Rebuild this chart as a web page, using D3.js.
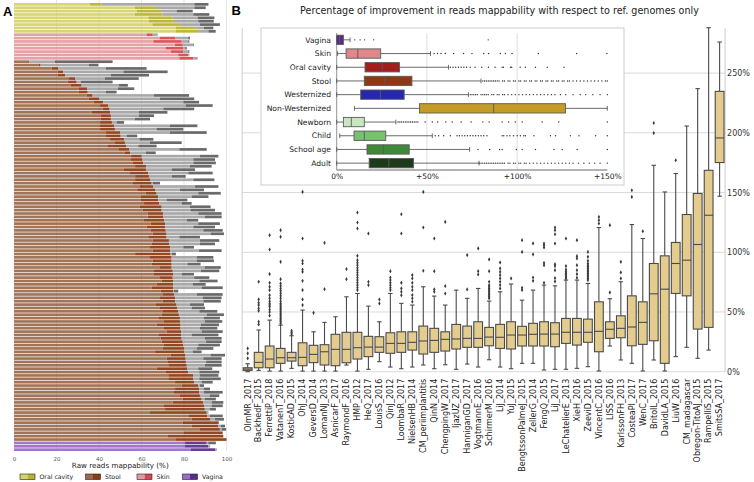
<!DOCTYPE html>
<html><head><meta charset="utf-8">
<script src="https://cdn.jsdelivr.net/npm/d3@7"></script>
<style>body{margin:0;background:#fff;} svg{display:block;font-family:"DejaVu Sans",sans-serif;}</style>
</head><body><svg id="c" width="754" height="482"></svg>
<script>
// ---------------- Panel A data: [ref end, improved end, grey end, dark grey end] (%)
const oralRows = [[35.8,41.2,84.9,91.5],[56.9,66.8,84.9,90.2],[57.7,69.2,76.5,84.1],[56.9,69.8,84.4,91.9],[63.2,74.5,86.4,94.3],[63.5,75.3,86.7,94],[65.1,78.1,87.5,96.9],[76.1,85.6,89.4,93.8],[76.1,87.1,91.5,94.9]];
const skinRows = [[62.4,65.3,67.2,67.5],[68.7,75.8,82,82.8],[65.6,78.9,82,82.5],[75.8,79.4,84.4,84.7],[71.4,79.7,80.6,81.3],[73.9,79.7,82,82.5],[77.3,82,82.4,82.5],[77.8,84.4,85.9,86.3]];
const stoolRows = [[6.7,7.2,19.3,46.4],[11.5,12.5,35.3,39.7],[17.7,20.9,43.3,62.4],[20.5,23.2,51.5,72.3],[20.4,24,45.6,63.5],[25.9,28.7,42.8,58.7],[25.3,29.5,31.4,46.4],[26.8,31.8,49.4,53.6],[30.3,34.5,48.9,56.6],[30.4,34.7,43.3,48.3],
[34.2,37,65.9,82.4],[35.1,40.2,68.7,84.8],[37.5,42,79.7,87.1],[40.5,44.4,80.8,93.5],[41.7,45,70.3,84.8],[36.5,45.2,58.7,72.2],[40.8,45.6,58.7,65.9],[40.8,45.6,56.9,64],[40.5,46.1,48.3,51.8],[40.5,47.1,73.4,86.3],
[40.5,47.5,67.1,79.7],[43.3,49.9,73.4,90.7],[43.3,50.2,53,58],[45.2,51.8,59,65.6],[47.5,52.2,64,78.9],[43.9,52.7,58.5,67.1],[49.1,54.3,77.8,90.7],[52.2,54.6,62.1,66.7],[55.1,60.1,87.5,96.2],[55.1,60.5,84.4,94.6],
[55.8,60.8,84.4,95],[57,62.1,82.8,93],[51.5,62.1,74.2,85.2],[54.6,63.2,82,93.5],[57,63.5,74.2,80.8],[57,64,84.4,94.3],[55.7,64.8,65.3,68.7],[59.3,65.6,85.2,96.2],[58,66.4,78.1,89.4],[62,67.1,86.7,97.3],
[59.8,67.9,83.6,91.5],[59.8,67.9,71.8,81.6],[61.2,68.4,78.9,83.6],[59,69.5,82.8,92.5],[60.5,69.5,83.1,94.6],[62.9,70.3,86.7,97.7],[62.9,70.3,89.8,97.7],[60.9,70.6,81.3,86.7],[64.3,71.1,86.7,96.9],[62.4,71.1,84.4,94.6],
[64.3,71.4,89.1,98.2],[65.2,71.8,92.5,98.8],[63.2,71.8,77.8,87.5],[65.2,72.9,87.5,96.6],[64.8,73.1,87.5,94.6],[64,73.4,79.7,84.7],[65.2,73.4,87.1,97.7],[57,73.7,74.2,76.2],[64,74.2,86,93.8],[65.2,74.2,86,94.1],
[64.8,74.2,81.6,87.8],[68.4,74.2,89.8,97.3],[65.9,74.7,88,96.6],[65.6,75,78.9,84.7],[68.7,74.7,84.8,91.9],[69.5,75,87.2,95.8],[67.1,75,84.1,90.2],[64.8,75,88.3,98.2],[69,75,75.3,77.3],[69.8,75.3,86,98.2],
[68.7,75.8,88.8,97.7],[70,75.8,89.1,97.3],[66.8,76.5,82.8,89.4],[68.7,76.9,83.6,89.9],[69.8,77.3,87.2,95.7],[69.5,77.6,90.7,98.8],[67.9,78.1,89.4,96.9],[70.3,78.1,89.8,98],[67.1,78.4,88,96.5],[70.6,78.4,87.5,95.7],
[71.8,78.6,88.3,98.2],[67.9,78.6,83.6,96.2],[69,78.9,89.8,97.7],[69.5,79.4,90.4,97.7],[70.3,79.7,86.7,96.9],[70,80,85.9,93.8],[66.4,80.2,84.1,88.3],[73.7,80.5,92.5,99.3],[71.8,80.8,89.1,97.7],[72.2,80.9,90.4,97.7],
[72.6,81.3,89.8,97.7],[67.1,81.6,86.7,93.3],[71.5,82,87.2,96.6],[72.6,84.4,87.5,96.2],[72.6,84.4,87.2,97.3],[75.8,84.7,88.3,93.5],[78.9,86.7,87.5,89.4],[75.8,87.1,89.4,92.2],[75,87.2,89.4,98.2],[78.1,87.5,92.2,96.6],
[79.4,88.3,89.8,95],[74.7,89.1,93,98.5],[70.3,89.4,93,98.2],[71.1,89.8,92.2,95],[64,90.7,91.4,91.5],[82,91,92.2,98.2],[83.6,92.5,94.6,98.8],[79.4,96.2,96.2,96.5],[83.6,96.2,97.3,99.3],[87.5,96.9,97.7,99.8],
[80,98.2,98.2,98.2],[72.2,98.5,98.5,98.5],[76.2,100,100,100]];
const vaginaRows = [[80.5,90.7,91.4,95],[80.5,91.5,92.3,92.3],[83.1,94.6,95,95.3]];
const xTicksA = [0,20,40,60,80,100];
const legendA = ["Oral cavity","Stool","Skin","Vagina"];

// ---------------- Panel B main boxplots (%)
const datasets = ["OlmMR_2017","BackhedF_2015","FerrettiP_2018","VatanenT_2016","KosticAD_2015","OhJ_2014","GeversD_2014","LomanNJ_2013","AsnicarF_2017","RaymondF_2016","HMP_2012","HeQ_2017","LouisS_2016","QinJ_2012","LoombaR_2017","NielsenHB_2014","CM_periimplantitis","QinN_2014","ChengpingW_2017","IjazUZ_2017","HanniganGD_2017","VogtmannE_2016","SchirmerM_2016","LiJ_2014","YuJ_2015","BengtssonPalmeJ_2015","ZellerG_2014","FengQ_2015","LiJ_2017","LeChatelierE_2013","XieH_2016","ZeeviD_2015","VincentC_2016","LISS_2016","KarlssonFH_2013","CosteaPI_2017","WenC_2017","BritoIL_2016","DavidLA_2015","LiuW_2016","CM_madagascar","Obregon-TitoAJ_2015","RampelliS_2015","SmitsSA_2017"];
const whiskLo = [0,1.1,0.5,0.5,2.8,0.5,0.5,0.5,0.5,5.6,0.5,2,8.4,3.9,2.5,3.9,5.6,2.5,5.8,2,6.4,3.9,10,3.9,2.5,7,7,1.4,2,2,2.8,4.2,0.6,21.5,9.8,7,0.6,9.8,0.6,12.6,20.4,11.2,18.1,146.9];
const q1 = [1.1,3.3,3.3,7,8.9,5,7.6,5.6,5,7.5,10.6,12.6,16.2,15.4,16.2,18.1,14.8,16.2,17.3,19,20.4,20.4,21.7,19.5,19,21.5,21.5,21.5,20.9,23.7,22.3,24.6,16.7,27.9,28.4,21.7,22.9,25.9,7,65.5,63.5,35.7,37.1,175.1];
const medians = [2.2,7.8,10.6,11.7,11.7,12,14.5,16.7,18.7,18.7,20.1,20.6,20.6,23.7,23.7,24.6,25.7,26.2,27.1,27.4,27.9,27.9,29,28.8,30.7,30.7,31.3,31.5,31.5,33,33,33,33.8,35.5,36.3,37.4,41.3,65.2,69.1,90.6,93.4,106.5,131,195.7];
const q3 = [3.3,16.2,21.5,19.5,16.2,24.2,22.1,22.6,31.3,33,33,29.6,29.3,32.6,33.4,33.4,38.2,36.3,33.4,39.6,38.2,41.8,37.1,39.6,41.8,38,40.5,41.8,41,44.6,44.6,44,58.5,41.8,46.8,63.5,58.5,90.6,97,108.2,131.6,149.2,168.6,234.7];
const whiskHi = [6.7,34.9,43.2,39,30.1,51.6,33.4,41.3,46,62.7,65.5,54.9,41.8,65.5,57.2,55.8,71.1,63.3,55.8,68.3,61.4,69.7,59.1,66.9,73.4,59.9,68.3,72.5,71.9,76.7,76.7,73.9,120.7,61.1,75.3,123.2,111.5,172.8,150.5,165.9,205.7,237,288,276];
const fliers = [
 [11.2,15.4,19.5],
 [39.6,41.8,51,53,55.8,57.7,60.5,75.3],
 [47,50,52,54.4,55.8,57.2,59,61.4,64.1,68.3,71.1,74.4,81.7,102.3,114.3],
 [40.5,42,43.2,44.6,46,47.4,48.8,50.2,51.6,53,54.4,55.8,57.2,59,61.4,63.5,65.6,67.7,69.7,71.8,73.9,77.5,92,112.9,118.5],
 [31.5,32.9,34.3],
 [55.8,60.5,68.3,76.1,83.6,85.6,90.6,92.8,111.5,150.5],
 [49.3],
 [69.1,107.9],
 [],
 [77.5,85.9],
 [68.3,70.4,72.5,74.6,76.7,78.8,80.9,83,85,87.1,89.2,91.3,93.4,97,119.9,124.9,133.3],
 [72.5,75.3,115.7],
 [57.2,60.5],
 [68.3,70.3,72.4,74.4,76.7,78.9,84.2],
 [64.1,66.9,69.7,74.4,115.7,131.8],
 [58.6,61.4,64.2,68.3,71.1,74.4,78.1,80.9],
 [84.5,120.7,150.5],
 [66.9,68.9,84.2,111.5],
 [65.5,71.7,125.4],
 [],
 [68.9,97.6],
 [81.4,84.2,103.2],
 [61.4,62.8,64.2,65.5,66.9,68.3,69.7,71.1,72.5,75.3,84.2,94],
 [69.7,72.5,75.3,78.1,80.9,83.6,86.5,91.5],
 [78.1],
 [68.3,70.2,100.3,110.1],
 [76.1,78.9,98.2,107.4],
 [74.4,89.2,91.1,104,105.9,107.3],
 [75.6,78.4,85,88.4,90,107.3,115.1,118.5,120.7],
 [78,79.5,80.9,82.3,83.6,85.6,88.4,111.5],
 [78.6,81.7,85,89.2,94.8,96.7,110.1],
 [76.7,78.1,79.5,80.9,82.3,83.6,85,86.4,87.8,89.2,90.6,92.8,96.2,100.3],
 [124.1,126.9,129.6],
 [66.4,122.7],
 [78.1,83.1,92],
 [146.3,151.9],
 [117.6],
 [199.8,208.2],
 [],
 [177],
 [],[],[],[]
];
const yTicksB = [0,50,100,150,200,250];

// ---------------- Inset boxplots (%)
const insetCats = ["Vagina","Skin","Oral cavity","Stool","Westernized","Non-Westernized","Newborn","Child","School age","Adult"];
const insetColors = ["#5a2a8c","#e0878b","#a31d1d","#8a3a14","#2727ad","#c49b26","#c6e8bf","#78c16e","#3d8a39","#1d3a1b"];
const insetLo = [0,0.5,0,0,0,9.8,0,1.7,0,0];
const insetQ1 = [0,5.2,15.7,15.3,13.3,45.9,3.7,9.6,16.8,18];
const insetMed = [1.5,11.7,25.2,26.7,24.2,87,8.1,15.3,25.9,28.9];
const insetQ3 = [3.7,24.4,34.8,41.7,37.4,126.8,15.3,27.2,40.2,42.6];
const insetHi = [7.4,52,62,80,73,150,32.8,53,73.7,78.9];
const insetFliers = [
 [10,13,15.5,20.5,84],
 [54,55.9,57.8,60.2,64.8,70.3,75,81.5,84.2,90.7,93.5,97.2,111.8,133,149.8],
 [63,64.5,66,67.5,69,70.5,72,74,76.7,80.4,84.1,87.8,91.7,92.4,96.3,97,101.7,104.6,110.2,116.7,126],
 [81,82,83,84,85,86,87,88,89,90,92,93,95,96,98,99,101,102,104,105,107,108,110,111,113,114,116,117,119,120,122,123,125,126,128,129,131,133,135,137,139,141,143,145,147,149,150],
 [74,75,76,77,78,80,81,82,83,84,86,87,89,90,92,93,95,97,99,101,103,105,107,109,111,113,115,117,119,121,124,127,131,135,138,142,146,150],
 [],
 [34,35,36,37,38,39,40,41,42,43,44,45,49,53,56,60.5,64,69,74.5,81,84.5,91.7,95.3,99,102.8,113.9,123.1,150],
 [54.6,56.5,59.3,63,66.7,68,69.5,71,72.5,74,75.5,77,78.5,80,81.5,83.3,91.7,92.6,94.4,96,98,100,101.8,103.7,104.6,109.3,118.5,121.3,129.6,134.3,143.5,150],
 [78.3,84.8,90.3,91.7,99.6,102.8,110.2,120.4,125,133.3,150],
 [79,80,81,82,83,84,85,86,87,88,89,90,91,92,93,95,96,98,99,101,102,104,105,107,109,111,113,115,117,119,121,123,125,127,129,131,134,137,140,143,146,150]
];
const insetTicks = [0,50,100,150];

// ---------------- drawing
const svg = d3.select("#c");

// ===== Panel A
const colA = {
  oral:["#d5d26b","#b8b22e"], skin:["#e39a9e","#d8474e"],
  stool:["#9b6a4b","#8b3a12"], vagina:["#9a6cc9","#5b2c90"]
};
const greyA = ["#a3a3a3","#5f5f5f"];
const rowsA = [
  ...oralRows.map(v=>({g:"oral",v})), ...skinRows.map(v=>({g:"skin",v})),
  ...stoolRows.map(v=>({g:"stool",v})), ...vaginaRows.map(v=>({g:"vagina",v}))
];
const xA = d3.scaleLinear().domain([0,100]).range([14,226.5]);
const yA = d3.scaleBand().domain(d3.range(rowsA.length)).range([3,451]).paddingInner(0.2);
const gA = svg.append("g");
gA.selectAll("line.grid").data(xTicksA.slice(1)).join("line")
  .attr("x1",d=>xA(d)).attr("x2",d=>xA(d)).attr("y1",0).attr("y2",451)
  .attr("stroke","#dedede").attr("stroke-width",0.8);
const rowG = gA.selectAll("g.row").data(rowsA).join("g").attr("transform",(d,i)=>`translate(0,${yA(i)})`);
rowG.each(function(d){
  const g = d3.select(this);
  const v = d.v;
  const segs = [[0,v[0],colA[d.g][0]],[v[0],v[1],colA[d.g][1]],[v[1],v[2],greyA[0]],[v[2],v[3],greyA[1]]];
  segs.forEach(s=>{
    if (s[1]>s[0]) g.append("rect").attr("x",xA(s[0])).attr("width",xA(s[1])-xA(s[0]))
      .attr("y",0).attr("height",yA.bandwidth()).attr("fill",s[2]).attr("fill-opacity",0.93);
  });
});
const axA = svg.append("g").attr("transform","translate(0,452)")
  .call(d3.axisBottom(xA).tickValues(xTicksA).tickSize(0).tickPadding(5).tickFormat(d=>d));
axA.select(".domain").remove();
axA.selectAll("text").attr("font-size",5.5).attr("fill","#555").attr("font-family","DejaVu Sans");
svg.append("text").attr("x",xA(50)).attr("y",468).attr("text-anchor","middle")
  .attr("font-size",7.2).attr("fill","#222").text("Raw reads mappability (%)");
// legend
const legX = [20,85.5,137,182.5];
const legKey = ["oral","stool","skin","vagina"];
legendA.forEach((name,i)=>{
  const c = colA[legKey[i]];
  svg.append("rect").attr("x",legX[i]).attr("y",474).attr("width",7.5).attr("height",5.5).attr("fill",c[0]);
  svg.append("rect").attr("x",legX[i]+7.5).attr("y",474).attr("width",7.5).attr("height",5.5).attr("fill",c[1]);
  svg.append("rect").attr("x",legX[i]).attr("y",474).attr("width",15).attr("height",5.5).attr("fill","none").attr("stroke","#222").attr("stroke-width",0.6);
  svg.append("text").attr("x",legX[i]+19.5).attr("y",479.2).attr("font-size",6.2).attr("fill","#222").text(name);
});
svg.append("text").attr("x",3).attr("y",15.5).attr("font-family","Liberation Sans, Arial, sans-serif")
  .attr("font-weight","bold").attr("font-size",13).text("A");
svg.append("text").attr("x",231.5).attr("y",15).attr("font-family","Liberation Sans, Arial, sans-serif")
  .attr("font-weight","bold").attr("font-size",13).text("B");

// ===== Panel B main
svg.append("text").attr("x",499.5).attr("y",13.5).attr("text-anchor","middle")
  .attr("font-size",9.6).attr("fill","#222")
  .text("Percentage of improvement in reads mappability with respect to ref. genomes only");
const xB = d3.scaleBand().domain(datasets).range([242.2,725.1]).paddingInner(0.2).paddingOuter(0.1);
const yB = d3.scaleLinear().domain([0,287.5]).range([371.7,28.3]);
const gB = svg.append("g");
gB.selectAll("line.g").data(yTicksB).join("line")
  .attr("x1",242.2).attr("x2",725.1).attr("y1",d=>yB(d)).attr("y2",d=>yB(d))
  .attr("stroke","#d9d9d9").attr("stroke-width",1);
[242.2,725.1].forEach(x=>gB.append("line").attr("x1",x).attr("x2",x).attr("y1",yB(287.5)).attr("y2",yB(0))
  .attr("stroke","#cccccc").attr("stroke-width",1));
const axBy = svg.append("g").attr("transform","translate(725.1,0)")
  .call(d3.axisRight(yB).tickValues(yTicksB).tickSize(0).tickPadding(2).tickFormat(d=>d+"%"));
axBy.select(".domain").remove();
axBy.selectAll("text").attr("font-size",8).attr("fill","#333").attr("font-family","DejaVu Sans");
const axBx = svg.append("g").attr("transform","translate(0,371.7)")
  .call(d3.axisBottom(xB).tickSize(0).tickPadding(0));
axBx.select(".domain").remove();
axBx.selectAll("text").attr("font-size",8).attr("fill","#222").attr("font-family","DejaVu Sans")
  .attr("text-anchor","end").attr("transform","rotate(-90)").attr("dy","0.35em").attr("dx",0)
  .attr("x",-7).attr("y",0);

const boxFill = "#e4cc8e", edge = "#4a4a4a";
datasets.forEach((name,i)=>{
  const x0 = xB(name), w = xB.bandwidth(), cx = x0 + w/2;
  const g = gB.append("g");
  g.append("line").attr("x1",cx).attr("x2",cx).attr("y1",yB(whiskLo[i])).attr("y2",yB(q1[i])).attr("stroke",edge).attr("stroke-width",1.1);
  g.append("line").attr("x1",cx).attr("x2",cx).attr("y1",yB(q3[i])).attr("y2",yB(whiskHi[i])).attr("stroke",edge).attr("stroke-width",1.1);
  [whiskLo[i],whiskHi[i]].forEach(v=>g.append("line").attr("x1",cx-w/4).attr("x2",cx+w/4).attr("y1",yB(v)).attr("y2",yB(v)).attr("stroke",edge).attr("stroke-width",1.1));
  g.append("rect").attr("x",x0).attr("width",w).attr("y",yB(q3[i])).attr("height",yB(q1[i])-yB(q3[i]))
    .attr("fill",boxFill).attr("stroke",edge).attr("stroke-width",1.1);
  g.append("line").attr("x1",x0).attr("x2",x0+w).attr("y1",yB(medians[i])).attr("y2",yB(medians[i])).attr("stroke",edge).attr("stroke-width",1.1);
  g.selectAll("path").data(fliers[i]).join("path")
    .attr("d",d3.symbol(d3.symbolDiamond,5))
    .attr("transform",d=>`translate(${cx},${yB(d)})`).attr("fill","#3a3a3a");
});

// ===== Inset
svg.append("rect").attr("x",261).attr("y",28).attr("width",363).attr("height",157)
  .attr("fill","#fff").attr("stroke","#cccccc").attr("stroke-width",1);
const xI = d3.scaleLinear().domain([0,150]).range([336.7,607.3]);
const yI = d3.scaleBand().domain(insetCats).range([33,170]).paddingInner(0.32).paddingOuter(0.16);
const gI = svg.append("g");
gI.selectAll("line.g").data(insetTicks.slice(1,3)).join("line")
  .attr("x1",d=>xI(d)).attr("x2",d=>xI(d)).attr("y1",33).attr("y2",170)
  .attr("stroke","#dedede").attr("stroke-width",1);
gI.append("line").attr("x1",xI(0)).attr("x2",xI(0)).attr("y1",33).attr("y2",170).attr("stroke","#888").attr("stroke-width",0.9);
gI.append("line").attr("x1",xI(0)).attr("x2",xI(150)).attr("y1",170).attr("y2",170).attr("stroke","#555").attr("stroke-width",0.9);
const axI = svg.append("g").attr("transform","translate(0,170)")
  .call(d3.axisBottom(xI).tickValues(insetTicks).tickSize(0).tickPadding(4)
    .tickFormat(d=>d===0?"0%":"+"+d+"%"));
axI.select(".domain").remove();
axI.selectAll("text").attr("font-size",7.5).attr("fill","#222").attr("font-family","DejaVu Sans");
insetCats.forEach((name,i)=>{
  const y0 = yI(name), h = yI.bandwidth(), cy = y0 + h/2;
  const g = gI.append("g");
  svg.append("text").attr("x",331).attr("y",cy).attr("dy","0.35em").attr("text-anchor","end")
    .attr("font-size",7.6).attr("fill","#222").text(name);
  const ie = "#5a5a5a";
  g.append("line").attr("x1",xI(insetLo[i])).attr("x2",xI(insetQ1[i])).attr("y1",cy).attr("y2",cy).attr("stroke",ie).attr("stroke-width",0.9);
  g.append("line").attr("x1",xI(insetQ3[i])).attr("x2",xI(insetHi[i])).attr("y1",cy).attr("y2",cy).attr("stroke",ie).attr("stroke-width",0.9);
  [insetLo[i],insetHi[i]].forEach(v=>g.append("line").attr("x1",xI(v)).attr("x2",xI(v)).attr("y1",cy-h/4).attr("y2",cy+h/4).attr("stroke",ie).attr("stroke-width",0.9));
  g.append("rect").attr("x",xI(insetQ1[i])).attr("width",xI(insetQ3[i])-xI(insetQ1[i])).attr("y",y0).attr("height",h)
    .attr("fill",insetColors[i]).attr("stroke",ie).attr("stroke-width",0.9);
  g.append("line").attr("x1",xI(insetMed[i])).attr("x2",xI(insetMed[i])).attr("y1",y0).attr("y2",y0+h).attr("stroke",ie).attr("stroke-width",0.9);
  g.selectAll("circle").data(insetFliers[i]).join("circle")
    .attr("cx",d=>xI(d)).attr("cy",cy).attr("r",0.7).attr("fill","#333");
});
</script></body></html>
